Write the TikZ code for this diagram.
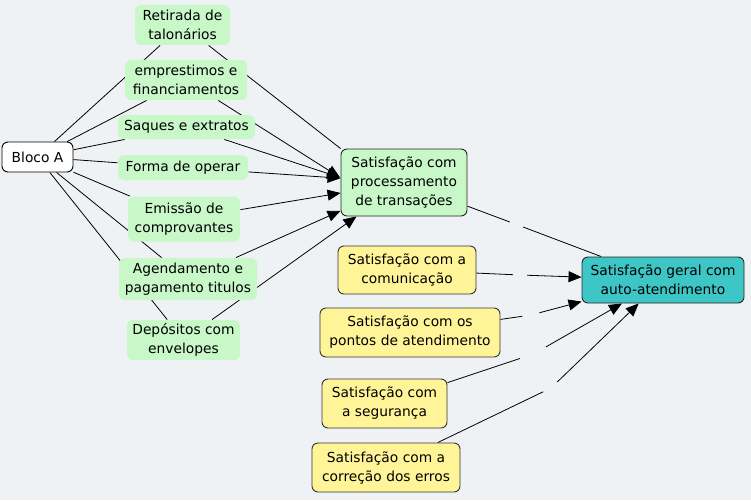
\documentclass[tikz,border=0pt]{standalone}
\usepackage{fontspec}
\setmainfont{DejaVu Sans}
\usetikzlibrary{arrows.meta}
\definecolor{bgc}{RGB}{238,242,245}
\definecolor{grn}{RGB}{200,247,200}
\definecolor{ylw}{RGB}{255,245,152}
\definecolor{tealc}{RGB}{62,198,198}
\pgfdeclarelayer{bg}
\pgfdeclarelayer{lines}
\pgfsetlayers{bg,lines,main}
\begin{document}
\begin{tikzpicture}[x=1pt,y=-1pt,
  font=\fontsize{13.8}{19}\selectfont,
  box/.style={rectangle, rounded corners=6pt, align=center, inner sep=0pt, line width=0.9pt},
  gbox/.style={box, fill=grn},
  wbox/.style={box, fill=white, draw=black},
  pbox/.style={box, fill=grn, draw=black!85},
  ybox/.style={box, fill=ylw, draw=black!80},
  tbox/.style={box, fill=tealc, draw=black!85},
  lnk/.style={circle, inner sep=0pt, minimum size=#1},
  con/.style={line width=0.8pt, draw=black},
  arr/.style={con, -{Triangle[length=13pt,width=11pt]}},
]
\useasboundingbox (0,0) rectangle (751,500);
\begin{pgfonlayer}{bg}
  \fill[bgc] (0,0) rectangle (751,500);
\end{pgfonlayer}

% nodes
\node[wbox, minimum width=71pt, minimum height=30pt] (bloco) at (37.5,157) {Bloco A};
\node[gbox, minimum width=95pt, minimum height=40pt] (ret) at (182.5,25) {Retirada de\\talonários};
\node[gbox, minimum width=122pt, minimum height=40pt] (emp) at (186,80) {emprestimos e\\financiamentos};
\node[gbox, minimum width=137pt, minimum height=24pt] (saq) at (186.5,127) {Saques e extratos};
\node[gbox, minimum width=130pt, minimum height=25pt] (forma) at (183,167.5) {Forma de operar};
\node[gbox, minimum width=112pt, minimum height=45pt] (emis) at (184,219) {Emissão de\\comprovantes};
\node[gbox, minimum width=138pt, minimum height=42pt] (agen) at (188,279) {Agendamento e\\pagamento titulos};
\node[gbox, minimum width=113pt, minimum height=40pt] (dep) at (183.5,340) {Depósitos com\\envelopes};
\node[pbox, minimum width=126pt, minimum height=67pt] (proc) at (404,182.5) {Satisfação com\\processamento\\de transações};
\node[ybox, minimum width=138pt, minimum height=48pt] (com) at (407,270) {Satisfação com a\\comunicação};
\node[ybox, minimum width=180pt, minimum height=49pt] (pont) at (410,332.5) {Satisfação com os\\pontos de atendimento};
\node[ybox, minimum width=125pt, minimum height=49pt] (seg) at (384.5,403.5) {Satisfação com\\a segurança};
\node[ybox, minimum width=148pt, minimum height=49pt] (cor) at (386,467.5) {Satisfação com a\\correção dos erros};
\node[tbox, minimum width=162pt, minimum height=46pt] (geral) at (663,280) {Satisfação geral com\\auto-atendimento};

% empty linking points
\coordinate (p1) at (340,177.5);
\node[lnk=14pt] (k1) at (516.5,224.5) {};
\node[lnk=14pt] (kc) at (520,275) {};
\node[lnk=17pt] (kp) at (531,315) {};
\node[lnk=28pt] (ks) at (533.5,354) {};
\node[lnk=17pt] (kr) at (551,388) {};

\begin{pgfonlayer}{lines}
  \draw[con] (bloco) -- (ret);
  \draw[con] (bloco) -- (emp);
  \draw[con] (bloco) -- (saq);
  \draw[con] (bloco) -- (forma);
  \draw[con] (bloco) -- (emis);
  \draw[con] (bloco) -- (agen);
  \draw[con] (bloco) -- (dep);
  \draw[con] (ret) -- (proc.north west);
  \draw[arr] (emp) -- (p1);
  \draw[arr] (saq) -- (p1);
  \draw[arr] (forma) -- (proc);
  \draw[arr] (emis) -- (proc);
  \draw[arr] (agen) -- (proc);
  \draw[arr] (dep) -- (proc);
  \draw[con] (proc) -- (k1);
  \draw[con] (k1) -- (geral);
  \draw[con] (com) -- (kc);
  \draw[arr] (kc) -- (geral);
  \draw[con] (pont) -- (kp);
  \draw[arr] (kp) -- (geral);
  \draw[con] (seg) -- (ks);
  \draw[arr] (ks) -- (geral);
  \draw[con] (cor) -- (kr);
  \draw[arr] (kr) -- (geral);
\end{pgfonlayer}
\end{tikzpicture}
\end{document}
